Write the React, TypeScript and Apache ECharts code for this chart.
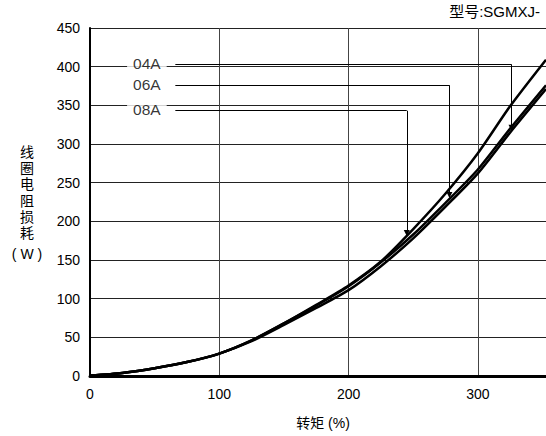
import React, { useEffect, useRef } from "react";
import * as echarts from "echarts";

// torque (%) sample points
const torque = [0, 25, 50, 75, 100, 125, 150, 175, 200, 225, 250, 275, 300, 325, 352.7];
// coil resistance loss (W)
const loss06A = [0.5, 4, 10, 18, 29, 46, 68, 92, 117, 148, 190, 236, 288, 349, 409];
const loss04A = [0.5, 4, 10, 18, 29, 46, 68, 91, 116, 147, 183, 224, 267, 320, 376];
const loss08A = [0.5, 4, 10, 18, 29, 45, 66, 88, 111, 142, 178, 219, 262, 315, 371];

const seriesNames = ["04A", "06A", "08A"];
const seriesData = [loss04A, loss06A, loss08A];

// leader annotations: label position, horizontal run, arrow end
const labelX = 44;
const leaderStartX = 66;
const leaderY = [403, 376, 343];
const leaderCornerX = [326, 278, 245];
const leaderTipY = [321, 234, 185];

const yTicks = { min: 0, max: 450, interval: 50 };
const xTicks = { min: 0, max: 352.7, interval: 100 };

const FONT = "'Liberation Sans', Arial, 'Noto Sans CJK SC', sans-serif";
const CJK = "'Noto Sans CJK SC', 'Liberation Sans', sans-serif";
const yNameChars = ["线", "圈", "电", "阻", "损", "耗"];

export default function App() {
  const ref = useRef<HTMLDivElement>(null);
  useEffect(() => {
    if (!ref.current) return;
    const chart = echarts.init(ref.current, undefined, { renderer: "svg" });
    const curveSeries = seriesNames.map((name, i) => ({
      name,
      type: "line",
      data: torque.map((t, k) => [t, seriesData[i][k]]),
      smooth: 0.25,
      symbol: "none",
      lineStyle: { color: "#000", width: 2.5 },
      z: 3,
    }));
    const option: any = {
      animation: false,
      backgroundColor: "#fff",
      grid: { left: 90, top: 28, width: 456, height: 348, containLabel: false },
      xAxis: {
        type: "value",
        min: xTicks.min,
        max: xTicks.max,
        interval: xTicks.interval,
        axisLine: { show: true, onZero: false, lineStyle: { color: "#000", width: 3 } },
        axisTick: { show: false },
        axisLabel: {
          showMaxLabel: false,
          margin: 11,
          fontSize: 14,
          color: "#000",
          fontFamily: FONT,
          formatter: (v: number) => (v % 100 === 0 ? String(v) : ""),
        },
        splitLine: { show: true, lineStyle: { color: "#444", width: 1 } },
      },
      yAxis: {
        type: "value",
        min: yTicks.min,
        max: yTicks.max,
        interval: yTicks.interval,
        axisLine: { show: true, lineStyle: { color: "#000", width: 2 } },
        axisTick: { show: false },
        axisLabel: { margin: 10, fontSize: 14, color: "#000", fontFamily: FONT },
        splitLine: { show: true, lineStyle: { color: "#222", width: 1 } },
      },
      series: [
        ...curveSeries,
        {
          type: "lines",
          coordinateSystem: "cartesian2d",
          symbol: ["none", "none"],
          lineStyle: { color: "#000", width: 1, opacity: 1 },
          data: leaderY.map((y, i) => ({
            coords: [
              [leaderStartX, y],
              [leaderCornerX[i], y],
            ],
          })),
          z: 4,
        },
        {
          type: "lines",
          coordinateSystem: "cartesian2d",
          symbol: ["none", "triangle"],
          symbolSize: 6,
          lineStyle: { color: "#000", width: 1, opacity: 1 },
          itemStyle: { color: "#000" },
          data: leaderY.map((y, i) => ({
            coords: [
              [leaderCornerX[i], y],
              [leaderCornerX[i], leaderTipY[i]],
            ],
          })),
          z: 4,
        },
        {
          type: "scatter",
          symbolSize: 0,
          data: seriesNames.map((n, i) => ({ value: [labelX, leaderY[i] + 1], name: n })),
          label: {
            show: true,
            position: "inside",
            formatter: (p: any) => p.name,
            fontSize: 15.5,
            color: "#000",
            fontFamily: FONT,
            backgroundColor: "#fff",
            padding: [0, 6],
          },
          z: 5,
        },
      ],
      graphic: [
        {
          type: "text",
          right: 6,
          top: 4,
          style: { text: "型号:SGMXJ-", fill: "#000", font: `15px ${FONT}` },
        },
        ...yNameChars.map((c, i) => ({
          type: "text",
          x: 27,
          y: 151 + i * 16.2,
          style: {
            text: c,
            fill: "#000",
            font: `14px ${CJK}`,
            textAlign: "center",
            textVerticalAlign: "middle",
          },
        })),
        {
          type: "text",
          x: 27,
          y: 254,
          style: {
            text: "( W )",
            fill: "#000",
            font: `14px ${FONT}`,
            textAlign: "center",
            textVerticalAlign: "middle",
          },
        },
        {
          type: "text",
          x: 323,
          y: 423,
          style: {
            text: "转矩 (%)",
            fill: "#000",
            font: `14px ${FONT}`,
            textAlign: "center",
            textVerticalAlign: "middle",
          },
        },
      ],
    };
    chart.setOption(option);
    return () => chart.dispose();
  }, []);
  return (
    <div
      ref={ref}
      style={{ position: "fixed", left: 0, top: 0, width: 546, height: 436 }}
    />
  );
}
